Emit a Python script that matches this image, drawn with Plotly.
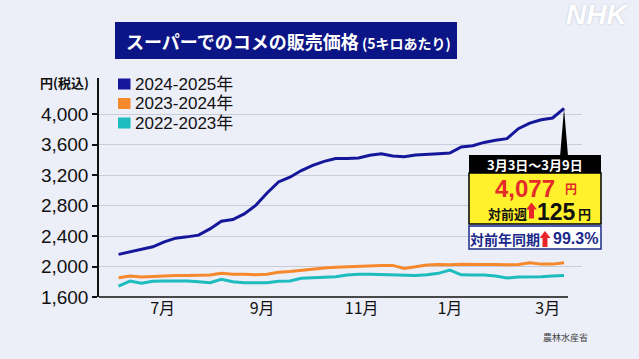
import plotly.graph_objects as go
import pandas as pd

# ---------------- data ----------------
WEEKS = pd.date_range("2024-06-03", periods=40, freq="7D")  # weekly (Mon start), last = 3/3-3/9
SERIES_NAMES = ["2024-2025年", "2023-2024年", "2022-2023年"]
PRICE_2024_25 = [2160, 2195, 2225, 2259, 2325, 2373, 2390, 2413, 2495, 2596,
                 2618, 2692, 2802, 2967, 3111, 3173, 3261, 3330, 3382, 3418,
                 3420, 3426, 3461, 3483, 3452, 3444, 3465, 3478, 3483, 3491,
                 3570, 3588, 3631, 3658, 3680, 3811, 3884, 3929, 3952, 4077]
PRICE_2023_24 = [1853, 1875, 1862, 1870, 1875, 1882, 1884, 1884, 1888, 1911,
                 1898, 1898, 1893, 1898, 1925, 1935, 1952, 1968, 1982, 1990,
                 1997, 2005, 2010, 2015, 2015, 1976, 1998, 2020, 2028, 2023,
                 2030, 2026, 2028, 2028, 2023, 2028, 2050, 2032, 2032, 2050]
PRICE_2022_23 = [1744, 1810, 1780, 1806, 1810, 1810, 1810, 1800, 1787, 1832,
                 1800, 1787, 1783, 1787, 1806, 1810, 1845, 1853, 1858, 1866,
                 1888, 1898, 1898, 1893, 1888, 1884, 1884, 1892, 1911, 1954,
                 1892, 1888, 1888, 1875, 1849, 1862, 1862, 1866, 1875, 1884]
COLORS = ["#15179B", "#F5892B", "#1DBCBE"]

Y_TICKS = [1600, 2000, 2400, 2800, 3200, 3600, 4000]
Y_TICK_LABELS = ["1,600", "2,000", "2,400", "2,800", "3,200", "3,600", "4,000"]
X_TICK_DATES = ["2024-06-30", "2024-08-30", "2024-10-30", "2024-12-23", "2025-02-21"]
X_TICK_LABELS = ["7月", "9月", "11月", "1月", "3月"]

TITLE = "スーパーでのコメの販売価格"
SUBTITLE = "(5キロあたり)"
Y_TITLE = "円(税込)"
SOURCE = "農林水産省"
CALLOUT_WEEK = "3月3日〜3月9日"
CALLOUT_PRICE = "4,077"
CALLOUT_WOW = "125"
CALLOUT_YOY = "99.3%"

# ---------------- layout geometry ----------------
WIDTH, HEIGHT = 639, 359
L, R, T, B = 99, 582, 78, 297
PW, PH = R - L, B - T


def fx(px):
    return (px - L) / PW


def fy(py):
    return (B - py) / PH


JP = "Noto Sans CJK JP, sans-serif"
LAT = "Liberation Sans, Noto Sans CJK JP, sans-serif"
BG = "#ECEEF8"

fig = go.Figure()

# lines (drawn back to front)
for name, vals, col in [(SERIES_NAMES[2], PRICE_2022_23, COLORS[2]),
                        (SERIES_NAMES[1], PRICE_2023_24, COLORS[1]),
                        (SERIES_NAMES[0], PRICE_2024_25, COLORS[0])]:
    fig.add_trace(go.Scatter(x=WEEKS, y=vals, mode="lines", name=name,
                             line=dict(color=col, width=3), showlegend=False,
                             hoverinfo="skip"))

shapes = []
annotations = []


def ann(text, x, y, size, color, family=JP, bold=True, xanchor="center", **kw):
    annotations.append(dict(text=(f"<b>{text}</b>" if bold else text),
                            x=fx(x), y=fy(y), xref="paper", yref="paper",
                            xanchor=xanchor, yanchor="middle", showarrow=False,
                            borderpad=0,
                            font=dict(size=size, color=color, family=family), **kw))


# legend (square swatches + labels)
for name, col, cy in zip(SERIES_NAMES, COLORS, [84, 103.5, 123]):
    shapes.append(dict(type="rect", xref="paper", yref="paper",
                       x0=fx(118), x1=fx(130.5), y0=fy(cy + 5.5), y1=fy(cy - 5.5),
                       fillcolor=col, line=dict(width=0)))
    ann(name, 134, cy, 17, "#111111", family=LAT, bold=False, xanchor="left")

# title box
shapes.append(dict(type="rect", xref="paper", yref="paper",
                   x0=fx(115), x1=fx(457), y0=fy(59), y1=fy(22),
                   fillcolor="#0B1586", line=dict(width=0), layer="above"))
# x axis line
shapes.append(dict(type="line", xref="paper", yref="paper",
                   x0=0, x1=fx(568), y0=0, y1=0,
                   line=dict(color="#111111", width=1.5)))
# callout pointer anchored at last data point
shapes.append(dict(type="path", xref="x", yref="y",
                   xsizemode="pixel", ysizemode="pixel",
                   xanchor=WEEKS[-1], yanchor=PRICE_2024_25[-1],
                   path="M0,0 L-4,-48 L4,-48 Z",
                   fillcolor="#000000", line=dict(width=0)))
# callout boxes
shapes.append(dict(type="rect", xref="paper", yref="paper",
                   x0=fx(469), x1=fx(601), y0=fy(173), y1=fy(155),
                   fillcolor="#000000", line=dict(width=0)))
shapes.append(dict(type="rect", xref="paper", yref="paper",
                   x0=fx(469), x1=fx(601), y0=fy(224), y1=fy(173),
                   fillcolor="#FFF22C", line=dict(color="#000000", width=1.5)))
shapes.append(dict(type="rect", xref="paper", yref="paper",
                   x0=fx(469), x1=fx(601), y0=fy(249), y1=fy(226),
                   fillcolor="#FFFFFF", line=dict(color="#1B2A8A", width=1.5)))
# red up arrows
ARROW = "M-2.5,0 L2.5,0 L2.5,9 L5.5,9 L0,16 L-5.5,9 L-2.5,9 Z"
for (ax_, ay_) in [(531.5, 218.5), (545, 247)]:
    shapes.append(dict(type="path", xref="paper", yref="paper",
                       xsizemode="pixel", ysizemode="pixel",
                       xanchor=fx(ax_), yanchor=fy(ay_), path=ARROW,
                       fillcolor="#E8262A", line=dict(width=0)))

ann(f"{TITLE}<span style='font-size:14px'> {SUBTITLE}</span>", 125, 41, 18, "#FFFFFF", xanchor="left")
ann(Y_TITLE, 64, 82, 13, "#111111")
ann(SOURCE, 565, 337, 9, "#444444", bold=False)
ann(CALLOUT_WEEK, 535, 164, 13, "#FFFFFF")
ann(CALLOUT_PRICE, 525, 188, 24, "#E52A2A", family=LAT)
ann("円", 570.5, 188.5, 12, "#E52A2A")
ann("対前週", 507.5, 213, 13, "#111111")
ann(CALLOUT_WOW, 556.5, 211.5, 23, "#111111", family=LAT)
ann("円", 584.5, 213.5, 13, "#111111")
ann("対前年同期", 505, 239, 14, "#1B2A8A")
ann(CALLOUT_YOY, 575, 238.5, 16, "#1B2A8A", family=LAT)
annotations.append(dict(text="<b><i>NHK</i></b>", x=fx(597), y=fy(15), xref="paper", yref="paper",
                        xanchor="center", yanchor="middle", showarrow=False,
                        font=dict(size=28, color="#FFFFFF", family="Liberation Sans, sans-serif",
                                  shadow="0px 0px 2px #B8BCCB")))

fig.update_layout(
    width=WIDTH, height=HEIGHT,
    margin=dict(l=L, r=WIDTH - R, t=T, b=HEIGHT - B, pad=0),
    paper_bgcolor=BG, plot_bgcolor=BG,
    shapes=shapes, annotations=annotations,
    showlegend=False,
    xaxis=dict(type="date", range=["2024-05-22", "2025-03-14"],
               tickvals=X_TICK_DATES, ticktext=X_TICK_LABELS,
               showgrid=False, showline=False, zeroline=False, ticks="",
               tickfont=dict(size=16, color="#111111", family=JP), tickangle=0),
    yaxis=dict(range=[1600, 4477], tickvals=Y_TICKS, ticktext=Y_TICK_LABELS,
               showgrid=True, gridcolor="#C9CCDA", gridwidth=1,
               showline=True, linecolor="#111111", linewidth=1.5,
               ticks="outside", ticklen=5, tickwidth=1.5, tickcolor="#111111",
               zeroline=False,
               tickfont=dict(size=19, color="#111111", family=LAT)),
)
fig.update_xaxes(tickprefix="<b>", ticksuffix="</b>")

fig.write_html("out.html", config={"displayModeBar": False},
               post_script="document.body.style.margin='0px';")
